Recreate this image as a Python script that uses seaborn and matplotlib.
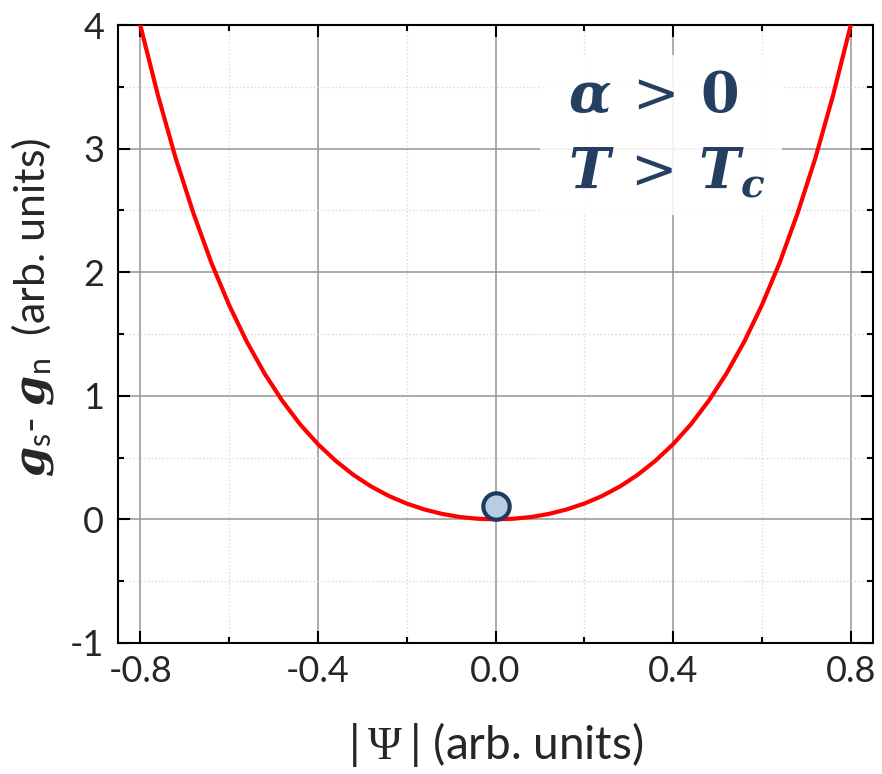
import matplotlib
matplotlib.use("Agg")
import matplotlib.pyplot as plt
import matplotlib.patches as mpatches
from matplotlib.ticker import MultipleLocator, FormatStrFormatter
import numpy as np
import pandas as pd
import seaborn as sns

# Free-energy difference g_s - g_n versus order parameter |Psi| (alpha > 0)
psi = [-0.80, -0.76, -0.72, -0.68, -0.64, -0.60, -0.56, -0.52, -0.48, -0.44,
       -0.40, -0.36, -0.32, -0.28, -0.24, -0.20, -0.16, -0.12, -0.08, -0.04,
       0.00, 0.04, 0.08, 0.12, 0.16, 0.20, 0.24, 0.28, 0.32, 0.36,
       0.40, 0.44, 0.48, 0.52, 0.56, 0.60, 0.64, 0.68, 0.72, 0.76, 0.80]
g_diff = [4.000, 3.430, 2.920, 2.475, 2.078, 1.735, 1.437, 1.180, 0.959, 0.769,
          0.609, 0.474, 0.360, 0.266, 0.189, 0.128, 0.080, 0.044, 0.019, 0.005,
          0.000, 0.005, 0.019, 0.044, 0.080, 0.128, 0.189, 0.266, 0.360, 0.474,
          0.609, 0.769, 0.959, 1.180, 1.437, 1.735, 2.078, 2.475, 2.920, 3.430, 4.000]

# Equilibrium state marker
state_psi = [0.0]
state_g = [0.105]

x_ticks = [-0.8, -0.4, 0.0, 0.4, 0.8]
y_ticks = [-1, 0, 1, 2, 3, 4]

curve = pd.DataFrame({"psi": psi, "g": g_diff})
state = pd.DataFrame({"psi": state_psi, "g": state_g})

sns.set_theme(style="white")
plt.rcParams["font.family"] = ["Lato", "DejaVu Sans"]
plt.rcParams["axes.unicode_minus"] = False
plt.rcParams["mathtext.fontset"] = "custom"
plt.rcParams["mathtext.rm"] = "DejaVu Serif:bold"
plt.rcParams["mathtext.it"] = "DejaVu Serif:italic:bold"
plt.rcParams["mathtext.bf"] = "DejaVu Serif:italic:bold"
plt.rcParams["mathtext.sf"] = "Lato"
plt.rcParams["mathtext.cal"] = "Liberation Serif"
plt.rcParams["mathtext.tt"] = "DejaVu Serif"

fig = plt.figure(figsize=(8.82, 7.74), dpi=100)
ax = fig.add_axes([0.1338, 0.1693, 0.856, 0.7984])

sns.lineplot(data=curve, x="psi", y="g", color="#ff0000", linewidth=3.0,
             ax=ax, zorder=4, sort=False)
sns.scatterplot(data=state, x="psi", y="g", s=360, color="#b8cce4",
                edgecolor="#1f3a5f", linewidth=3.0, ax=ax, zorder=6)

ax.set_xlim(-0.85, 0.85)
ax.set_ylim(-1, 4)
ax.set_xticks(x_ticks)
ax.set_yticks(y_ticks)
ax.xaxis.set_major_formatter(FormatStrFormatter("%.1f"))
ax.xaxis.set_minor_locator(MultipleLocator(0.2))
ax.yaxis.set_minor_locator(MultipleLocator(0.5))

ax.grid(which="major", color="#959595", linewidth=1.1, linestyle="-", zorder=0)
ax.grid(which="minor", color="#d8d8d8", linewidth=1.0, linestyle=":", zorder=0)
ax.set_axisbelow(True)

for sp in ax.spines.values():
    sp.set_visible(True)
    sp.set_color("black")
    sp.set_linewidth(1.5)

ax.tick_params(which="both", direction="in", top=True, right=True,
               bottom=True, left=True, width=1.5, color="black")
ax.tick_params(which="major", length=8.5, labelsize=26)
ax.tick_params(axis="x", which="major", pad=9)
ax.tick_params(axis="y", which="major", pad=10)
ax.tick_params(which="minor", length=4.5)

ax.set_xlabel(r"|$\,\mathcal{\Psi}\,$| (arb. units)", fontsize=33)
ax.xaxis.set_label_coords(0.5, -0.125)
ax.set_ylabel(r"$\mathbf{g}_{\mathsf{s}}$- $\mathbf{g}_{\mathsf{n}}$  (arb. units)",
              fontsize=31)
ax.yaxis.set_label_coords(-0.082, 0.544)

# Light panel behind the condition labels
ax.add_patch(mpatches.Rectangle((0.559, 0.693), 0.32, 0.258, transform=ax.transAxes,
                                facecolor="white", edgecolor="none", alpha=0.88,
                                zorder=2))
ax.text(0.596, 0.858, r"$\alpha\,\mathtt{>}\,0$", transform=ax.transAxes,
        fontsize=40, color="#243f60", ha="left", va="baseline", zorder=5)
ax.text(0.596, 0.736, r"$T\,\mathtt{>}\,T_{c}$", transform=ax.transAxes,
        fontsize=40, color="#243f60", ha="left", va="baseline", zorder=5)

fig.savefig("out.png", dpi=100)
